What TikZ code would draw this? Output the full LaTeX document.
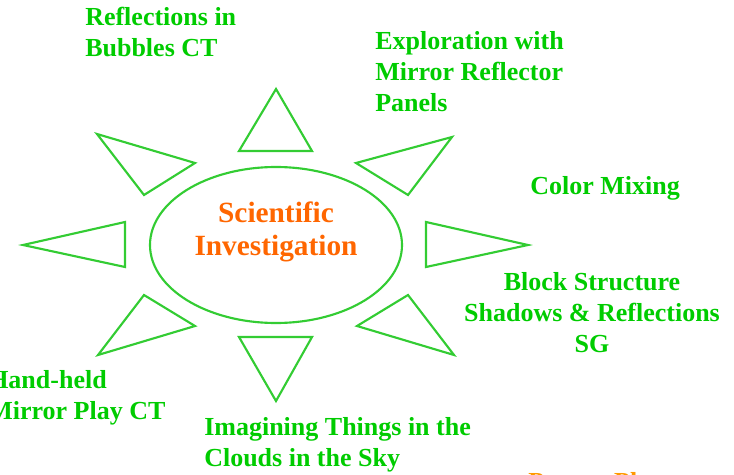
\documentclass[tikz,border=0pt]{standalone}
\usepackage{fontspec}
\setmainfont{Liberation Serif}
\usetikzlibrary{shapes.geometric}
\definecolor{sungreen}{HTML}{00CC00}
\definecolor{rayline}{HTML}{33CC33}
\definecolor{hubred}{HTML}{FF6600}
\definecolor{puporange}{HTML}{FF9900}

\begin{document}
\begin{tikzpicture}[
  x=0.75pt, y=-0.75pt,
  lbl/.style={font=\fontsize{19.5}{23.25}\selectfont\bfseries, text=sungreen, inner sep=0pt},
  ray/.style={draw=rayline, line width=1.6pt},
  hub/.style={ellipse, draw=rayline, line width=1.6pt, minimum width=189pt, minimum height=117pt},
  hubtext/.style={font=\fontsize{22}{24.75}\selectfont\bfseries, text=hubred, align=center, inner sep=0pt},
]
\useasboundingbox (0,0) rectangle (734,474);
\clip (0,0) rectangle (734,474);

% centre of the sun
\node[hub] (hub) at (276,245) {};
\node[hubtext, anchor=base] (title) at (276,255) {Scientific\\Investigation};

% rays
\draw[ray] (276,89) -- (312,151) -- (239,151) -- cycle;
\draw[ray] (239,337) -- (312,337) -- (276,401) -- cycle;
\draw[ray] (23,245) -- (125,222) -- (125,267) -- cycle;
\draw[ray] (426,222) -- (528,245) -- (426,267) -- cycle;
\draw[ray] (97,134) -- (195,163) -- (144,195) -- cycle;
\draw[ray] (356,163) -- (452,137) -- (408,195) -- cycle;
\draw[ray] (357,326) -- (408,295) -- (454,355) -- cycle;
\draw[ray] (195,326) -- (144,295) -- (98,355) -- cycle;

% activities (base = last line)
\node[lbl, align=left, anchor=base west] (bubbles) at (85,57) {Reflections in\\Bubbles CT};
\node[lbl, align=left, anchor=base west] (panels) at (375,112) {Exploration with\\Mirror Reflector\\Panels};
\node[lbl, anchor=base west] (mixing) at (530,194) {Color Mixing};
\node[lbl, align=center, anchor=base] (blocks) at (592,352) {Block Structure\\Shadows \& Reflections\\SG};
\node[lbl, align=left, anchor=base west] (mirror) at (-12,419) {Hand-held\\Mirror Play CT};
\node[lbl, align=left, anchor=base west] (clouds) at (204,466) {Imagining Things in the\\Clouds in the Sky};
\node[lbl, text=puporange, anchor=base west] (puppet) at (528,490) {Puppet Play};
\end{tikzpicture}
\end{document}
